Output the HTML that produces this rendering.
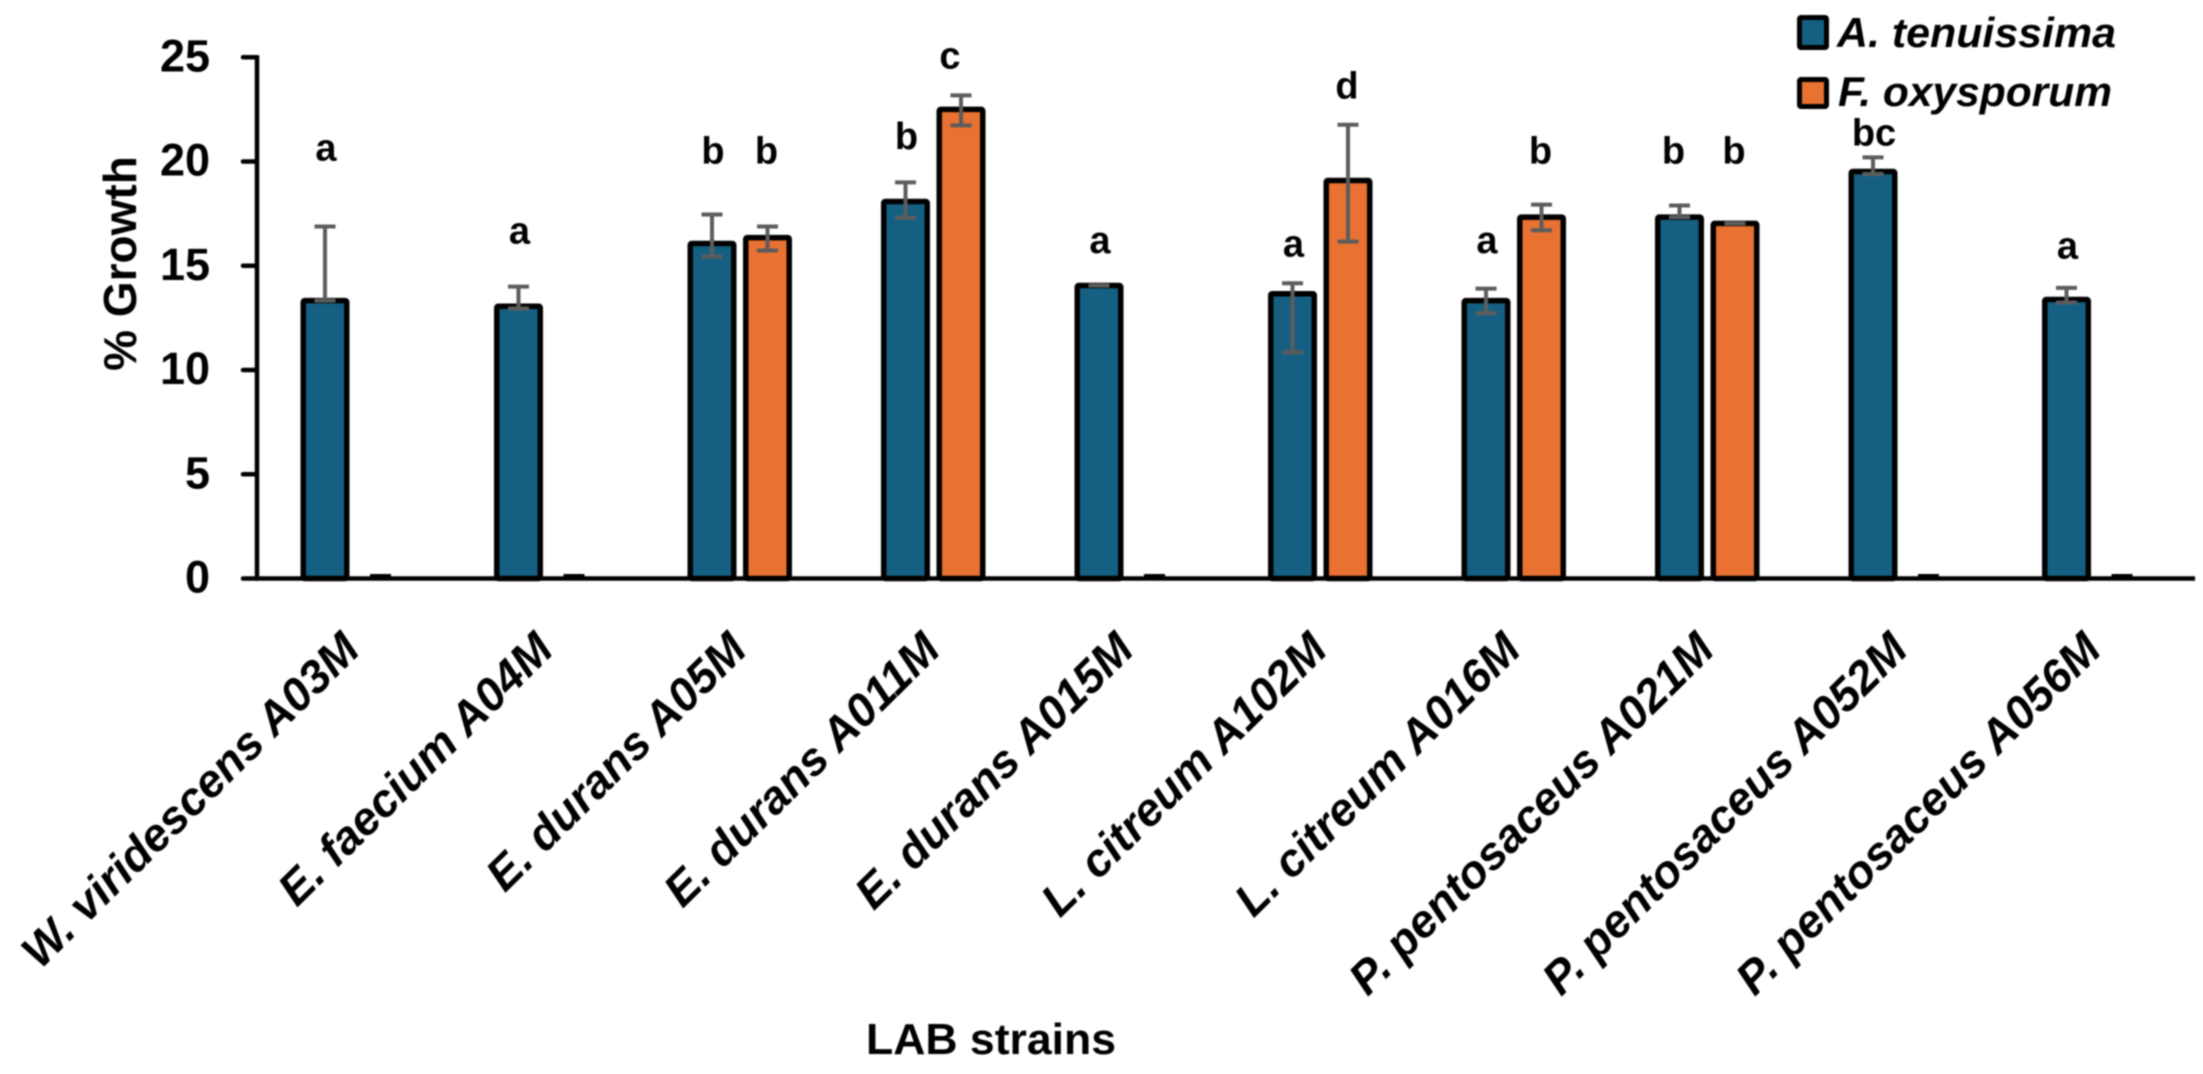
<!DOCTYPE html>
<html lang="en">
<head>
<meta charset="utf-8">
<title>% Growth by LAB strain</title>
<style>
html,body{margin:0;padding:0;background:#fff;width:2203px;height:1074px;overflow:hidden}
svg{display:block;filter:blur(0.7px)}
text{font-family:"Liberation Sans",sans-serif;fill:#000}
</style>
</head>
<body>
<svg id="chart" xmlns="http://www.w3.org/2000/svg" width="2203" height="1074" viewBox="0 0 2203 1074">
  <rect x="0" y="0" width="2203" height="1074" fill="#ffffff"/>
  <g id="bars"></g>
  <g id="errors"></g>
  <g id="letters"></g>
  <g id="axes"></g>
  <g id="xlabels"></g>
  <text transform="translate(136,263.5) rotate(-90)" text-anchor="middle" font-size="46" font-weight="bold">% Growth</text>
  <text x="866" y="1054" font-size="44" font-weight="bold" textLength="250" lengthAdjust="spacingAndGlyphs">LAB strains</text>
  <g>
    <g>
      <rect x="1799.5" y="17.5" width="27" height="30" rx="1.5" fill="#156082" stroke="#000" stroke-width="5"/>
      <text x="1837" y="47" font-size="42" font-weight="bold" font-style="italic" textLength="279" lengthAdjust="spacingAndGlyphs">A. tenuissima</text>
    </g>
    <g>
      <rect x="1799.5" y="79.5" width="27" height="27" rx="1.5" fill="#E97132" stroke="#000" stroke-width="5"/>
      <text x="1838" y="106" font-size="42" font-weight="bold" font-style="italic" textLength="274" lengthAdjust="spacingAndGlyphs">F. oxysporum</text>
    </g>
  </g>
</svg>
<script>
const categories = ["W. viridescens A03M","E. faecium A04M","E. durans A05M","E. durans A011M","E. durans A015M","L. citreum A102M","L. citreum A016M","P. pentosaceus A021M","P. pentosaceus A052M","P. pentosaceus A056M"];
const yTicks = [0,5,10,15,20,25];
const blueValues = [13.33,13.06,16.07,18.08,14.05,13.66,13.33,17.33,19.52,13.38];
const bluePlus = [3.55,0.94,1.39,0.92,0,0.5,0.57,0.56,0.68,0.56];
const blueMinus = [0,0.11,0.63,0.78,0,2.81,0.61,0,0.12,0.14];
const orangeValues = [0,0,16.35,22.5,0,19.09,17.33,17.03,0,0];
const orangePlus = [0,0,0.53,0.67,0,2.67,0.6,0,0,0];
const orangeMinus = [0,0,0.62,0.77,0,2.93,0.63,0,0,0];
const blueLetters = ["a","a","b","b","a","a","a","b","bc","a"];
const blueLetterLevels = [20.05,16.07,19.9,20.6,15.6,15.45,15.6,19.9,20.77,15.35];
const orangeLetters = ["","","b","c","","d","b","b","",""];
const orangeLetterLevels = [0,0,19.9,24.46,0,23.02,19.9,19.9,0,0];

const NS = "http://www.w3.org/2000/svg";
const zeroY = 578.5, pxPerUnit = 20.85, firstBlueX = 325, groupStep = 193.5, orangeOffset = 55.5;
const axisX = 257, axisEndX = 2195;
const barW = 43.5, capW = 21;
function yScale(v){ return zeroY - v * pxPerUnit; }
function blueX(i){ return firstBlueX + i * groupStep; }
function orangeX(i){ return blueX(i) + orangeOffset; }
function make(tag, parentId){
  const el = document.createElementNS(NS, tag);
  document.getElementById(parentId).appendChild(el);
  return el;
}
function setAll(el, props){
  for (const k in props) el.setAttribute(k, props[k]);
}
function drawBar(cx, v, color, series, i){
  if (v <= 0) return;
  const el = make("rect", "bars");
  setAll(el, {x: cx - barW/2, y: yScale(v), width: barW, height: zeroY - yScale(v), fill: color, stroke: "#000", "stroke-width": 5.5, rx: 1.5});
  
  
}
function drawError(cx, v, plus, minus, series, i){
  const top = yScale(v + plus), bottom = yScale(v - minus);
  const col = v > 0 ? "#5c5c5c" : "#000";
  const off = v > 0 ? 0 : -2.5;
  const stem = make("line", "errors");
  setAll(stem, {x1: cx, x2: cx, y1: top, y2: bottom, stroke: col, "stroke-width": 4});
  
  
  const capTop = make("line", "errors");
  setAll(capTop, {x1: cx - capW/2, x2: cx + capW/2, y1: top + off, y2: top + off, stroke: col, "stroke-width": 4});
  
  
  const capBottom = make("line", "errors");
  setAll(capBottom, {x1: cx - capW/2, x2: cx + capW/2, y1: bottom + off, y2: bottom + off, stroke: col, "stroke-width": 4});
  
  
}
function drawLetter(cx, level, str, series, i){
  if (!str) return;
  const el = make("text", "letters");
  setAll(el, {x: cx, y: yScale(level), "text-anchor": "middle", "font-size": 38, "font-weight": "bold"});
  el.textContent = str;
  
  
}
function blueLetterNudge(i){ return i === 7 ? -6 : 1; }
function orangeLetterNudge(i){ return i === 3 ? -11 : -1; }
categories.forEach(function(name, i){
  drawBar(blueX(i), blueValues[i], "#156082", "a-tenuissima", i);
  drawBar(orangeX(i), orangeValues[i], "#E97132", "f-oxysporum", i);
  drawError(blueX(i), blueValues[i], bluePlus[i], blueMinus[i], "a-tenuissima", i);
  drawError(orangeX(i), orangeValues[i], orangePlus[i], orangeMinus[i], "f-oxysporum", i);
  drawLetter(blueX(i) + blueLetterNudge(i), blueLetterLevels[i], blueLetters[i], "a-tenuissima", i);
  drawLetter(orangeX(i) + orangeLetterNudge(i), orangeLetterLevels[i], orangeLetters[i], "f-oxysporum", i);
  const label = make("text", "xlabels");
  const lx = blueX(i) + 37, ly = 652;
  setAll(label, {transform: "translate(" + lx + "," + ly + ") rotate(-44.7)", "text-anchor": "end", "font-size": 46, "font-weight": "bold", "font-style": "italic"});
  label.textContent = name;
  
  
});
yTicks.forEach(function(t){
  const tick = make("line", "axes");
  setAll(tick, {x1: 243, x2: axisX, y1: yScale(t), y2: yScale(t), stroke: "#000", "stroke-width": 4.5, "stroke-linecap": "round"});
  
  
  const label = make("text", "axes");
  setAll(label, {x: 210, y: yScale(t) + 14, "text-anchor": "end", "font-size": 45, "font-weight": "bold"});
  label.textContent = t;
  
  
});
const yAxis = make("line", "axes");
setAll(yAxis, {x1: axisX, x2: axisX, y1: yScale(25) - 2, y2: zeroY, stroke: "#000", "stroke-width": 4.5});


const xAxis = make("line", "axes");
setAll(xAxis, {x1: axisX - 2, x2: axisEndX, y1: zeroY, y2: zeroY, stroke: "#000", "stroke-width": 4.5});


</script>
</body>
</html>
